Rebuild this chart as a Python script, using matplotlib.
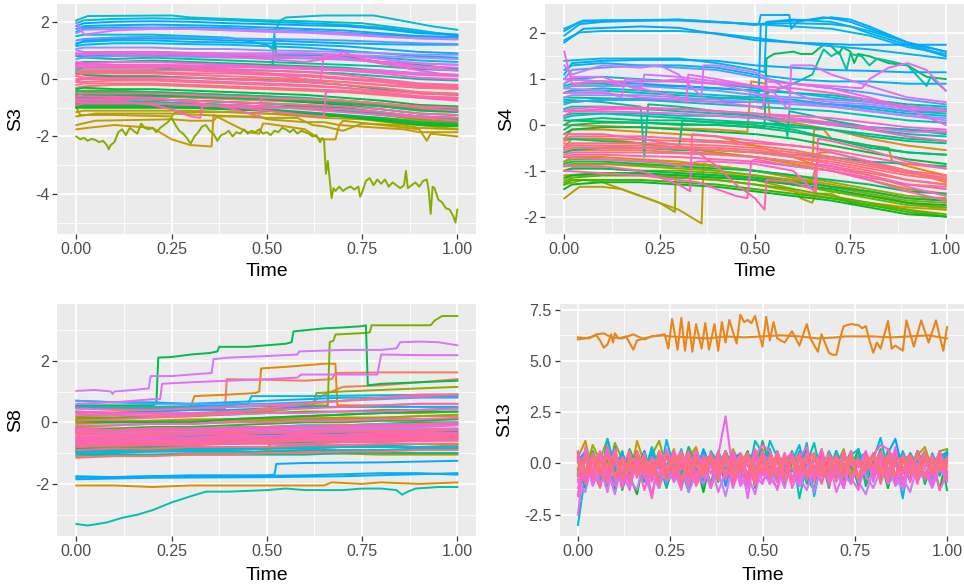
import numpy as np
import matplotlib
matplotlib.use("Agg")
import matplotlib.pyplot as plt

plt.rcParams['font.family'] = ['Liberation Sans', 'DejaVu Sans']
plt.rcParams['axes.unicode_minus'] = False

N_GROUPS = 100

# ---------------- S3 ----------------
S3_GRID = [0, 0.02, 0.1, 0.2, 0.3, 0.4, 0.5, 0.6, 0.7, 0.8, 0.9, 1.0]
S3_STEADY = [
    (76, [2.0, 1.55, 1.7, 1.75, 1.75, 1.72, 1.7, 1.65, 1.6, 1.5, 1.42, 1.4]),
    (62, [1.75, 1.85, 1.88, 1.9, 1.88, 1.85, 1.8, 1.75, 1.7, 1.6, 1.5, 1.48]),
    (60, [1.65, 1.78, 1.8, 1.8, 1.8, 1.78, 1.72, 1.68, 1.62, 1.55, 1.48, 1.45]),
    (74, [1.6, 1.72, 1.75, 1.78, 1.75, 1.7, 1.65, 1.62, 1.55, 1.48, 1.42, 1.38]),
    (64, [1.85, 1.95, 2.0, 2.02, 2.0, 1.95, 1.92, 1.88, 1.85, 1.75, 1.6, 1.55]),
    (56, [1.95, 2.05, 2.1, 2.12, 2.1, 2.05, 2.0, 1.95, 1.9, 1.8, 1.65, 1.55]),
    (62, [1.2, 1.35, 1.4, 1.42, 1.4, 1.35, 1.35, 1.3, 1.25, 1.22, 1.2, 1.2]),
    (60, [1.25, 1.3, 1.35, 1.35, 1.3, 1.28, 1.25, 1.2, 1.15, 1.05, 0.95, 0.9]),
    (66, [1.35, 1.4, 1.45, 1.48, 1.45, 1.42, 1.4, 1.38, 1.35, 1.3, 1.25, 1.22]),
    (58, [1.15, 1.2, 1.25, 1.25, 1.22, 1.2, 1.15, 1.1, 1.0, 0.9, 0.8, 0.75]),
    (72, [1.0, 0.95, 0.95, 0.95, 0.92, 0.9, 0.9, 0.9, 0.85, 0.8, 0.75, 0.7]),
    (80, [0.9, 0.85, 0.9, 0.92, 0.9, 0.88, 0.88, 0.9, 0.85, 0.7, 0.55, 0.5]),
    (44, [0.8, 0.75, 0.7, 0.75, 0.7, 0.65, 0.6, 0.55, 0.5, 0.45, 0.35, 0.3]),
    (54, [0.85, 0.8, 0.85, 0.85, 0.8, 0.8, 0.8, 0.85, 0.8, 0.75, 0.65, 0.6]),
    (84, [0.85, 0.9, 0.95, 0.95, 0.9, 0.85, 0.8, 0.78, 0.72, 0.6, 0.45, 0.4]),
    (68, [0.7, 0.75, 0.8, 0.8, 0.78, 0.75, 0.75, 0.72, 0.68, 0.6, 0.55, 0.5]),
    (88, [0.6, 0.55, 0.5, 0.5, 0.48, 0.45, 0.4, 0.35, 0.3, 0.2, 0.05, 0.0]),
    (40, [0.55, 0.6, 0.6, 0.65, 0.6, 0.55, 0.5, 0.45, 0.4, 0.3, 0.2, 0.15]),
    (92, [0.45, 0.4, 0.4, 0.42, 0.4, 0.35, 0.3, 0.25, 0.15, 0.0, -0.15, -0.2]),
    (86, [0.5, 0.55, 0.6, 0.6, 0.55, 0.5, 0.45, 0.4, 0.35, 0.25, 0.15, 0.1]),
    (97, [0.3, 0.3, 0.3, 0.32, 0.3, 0.25, 0.2, 0.15, 0.05, -0.05, -0.2, -0.25]),
    (46, [0.35, 0.4, 0.4, 0.4, 0.35, 0.3, 0.3, 0.25, 0.2, 0.1, 0.0, -0.05]),
    (78, [0.4, 0.45, 0.45, 0.45, 0.45, 0.42, 0.4, 0.4, 0.35, 0.3, 0.2, 0.15]),
    (99, [0.15, 0.2, 0.2, 0.2, 0.15, 0.1, 0.05, 0.0, -0.1, -0.2, -0.3, -0.35]),
    (94, [0.1, 0.05, 0.05, 0.05, 0.05, 0.0, -0.05, -0.1, -0.2, -0.3, -0.45, -0.5]),
    (36, [0.2, 0.15, 0.1, 0.1, 0.05, 0.0, -0.05, -0.1, -0.2, -0.35, -0.5, -0.55]),
    (2, [0.0, 0.05, 0.1, 0.1, 0.05, 0.0, 0.0, -0.05, -0.1, -0.2, -0.3, -0.3]),
    (90, [0.25, 0.25, 0.25, 0.25, 0.2, 0.2, 0.15, 0.1, 0.0, -0.1, -0.25, -0.3]),
    (98, [-0.1, -0.1, -0.05, -0.05, -0.1, -0.15, -0.2, -0.25, -0.3, -0.4, -0.5, -0.55]),
    (95, [-0.2, -0.15, -0.15, -0.15, -0.2, -0.25, -0.3, -0.35, -0.4, -0.5, -0.6, -0.65]),
    (1, [-0.3, -0.25, -0.2, -0.2, -0.25, -0.3, -0.35, -0.4, -0.45, -0.55, -0.65, -0.7]),
    (34, [-0.35, -0.3, -0.35, -0.35, -0.4, -0.45, -0.5, -0.55, -0.65, -0.75, -0.9, -0.95]),
    (42, [-0.4, -0.45, -0.45, -0.45, -0.5, -0.55, -0.6, -0.65, -0.75, -0.85, -1.0, -1.05]),
    (89, [-0.05, 0.0, 0.0, 0.0, -0.05, -0.1, -0.15, -0.2, -0.3, -0.45, -0.6, -0.65]),
    (27, [-0.45, -0.4, -0.4, -0.45, -0.5, -0.55, -0.6, -0.7, -0.8, -0.9, -1.05, -1.1]),
    (32, [-0.55, -0.5, -0.5, -0.55, -0.6, -0.65, -0.7, -0.8, -0.9, -1.05, -1.2, -1.25]),
    (38, [-0.6, -0.65, -0.65, -0.7, -0.75, -0.8, -0.85, -0.9, -1.0, -1.15, -1.3, -1.35]),
    (30, [-0.7, -0.7, -0.7, -0.72, -0.75, -0.8, -0.85, -0.95, -1.05, -1.2, -1.35, -1.4]),
    (33, [-1.0, -1.0, -1.0, -1.0, -1.0, -1.05, -1.1, -1.2, -1.3, -1.4, -1.55, -1.6]),
    (35, [-0.95, -0.9, -0.9, -0.9, -0.95, -1.0, -1.05, -1.15, -1.25, -1.35, -1.5, -1.55]),
    (91, [-0.75, -0.7, -0.7, -0.7, -0.75, -0.8, -0.85, -0.9, -0.95, -1.05, -1.2, -1.25]),
    (93, [-0.9, -0.85, -0.85, -0.85, -0.9, -0.95, -1.0, -1.0, -1.05, -1.15, -1.3, -1.35]),
    (96, [-0.5, -0.5, -0.5, -0.5, -0.55, -0.6, -0.65, -0.7, -0.75, -0.85, -0.95, -1.0]),
    (3, [-0.65, -0.6, -0.6, -0.6, -0.65, -0.7, -0.75, -0.8, -0.85, -0.95, -1.05, -1.1]),
    (48, [-0.8, -0.75, -0.75, -0.8, -0.85, -0.9, -0.95, -1.0, -1.1, -1.2, -1.3, -1.35]),
    (28, [-0.85, -0.8, -0.8, -0.8, -0.85, -0.9, -0.95, -1.0, -1.1, -1.25, -1.4, -1.45]),
    (14, [-1.15, -1.1, -1.1, -1.1, -1.1, -1.15, -1.2, -1.25, -1.3, -1.35, -1.45, -1.5]),
    (31, [-0.9, -0.95, -0.95, -0.95, -1.0, -1.05, -1.1, -1.2, -1.3, -1.45, -1.6, -1.65]),
    (37, [-0.5, -0.55, -0.55, -0.6, -0.6, -0.65, -0.7, -0.75, -0.85, -0.95, -1.1, -1.15]),
    (70, [1.05, 1.1, 1.1, 1.1, 1.05, 1.05, 1.0, 0.98, 0.95, 0.9, 0.85, 0.85]),
]
S3_STEP = [
    (50, [(0, 2.05), (0.03, 2.2), (0.25, 2.22), (0.3, 2.15), (0.5, 2.05), (0.6, 2.02),
          (0.75, 1.95), (0.9, 1.7), (1, 1.5)]),
    (52, [(0, 1.5), (0.02, 1.55), (0.2, 1.55), (0.4, 1.45), (0.5, 1.2), (0.515, 1.05),
          (0.52, 1.6), (0.535, 2.05), (0.55, 2.15), (0.65, 2.22), (0.78, 2.22), (0.85, 2.05),
          (0.93, 1.85), (1, 1.72)]),
    (15, [(0, -1.0), (0.01, -1.25), (0.1, -1.25), (0.25, -1.3), (0.26, -1.15), (0.4, -1.15),
          (0.5, -1.2), (0.6, -1.3), (0.65, -1.35), (0.75, -1.4), (0.85, -1.55), (0.9, -1.6),
          (1, -1.75)]),
    (16, [(0, -1.6), (0.05, -1.45), (0.25, -1.4), (0.3, -1.45), (0.36, -1.45), (0.37, -1.3),
          (0.48, -1.3), (0.5, -1.4), (0.6, -1.5), (0.65, -1.5), (0.69, -1.6), (0.7, -1.45),
          (0.8, -1.6), (0.9, -1.75), (0.92, -2.15), (0.93, -1.9), (1, -2.0)]),
    (13, [(0, -1.75), (0.03, -1.7), (0.1, -1.6), (0.2, -1.7), (0.25, -2.1), (0.3, -2.3),
          (0.355, -2.35), (0.36, -1.25), (0.45, -1.85), (0.48, -1.9), (0.49, -1.55),
          (0.5, -1.55), (0.6, -1.75), (0.64, -2.1), (0.68, -2.1), (0.69, -1.6), (0.8, -1.7),
          (0.86, -1.75), (0.9, -1.85), (1, -1.85)]),
    (18, [(0, -1.3), (0.05, -1.2), (0.25, -1.2), (0.5, -1.35), (0.58, -1.35), (0.62, -1.6),
          (0.65, -1.65), (0.7, -1.8), (0.75, -1.55), (0.85, -1.6), (0.9, -1.7), (1, -1.75)]),
    (24, [(0, -2.0), (0.01, -2.1), (0.02, -2.05), (0.03, -2.15), (0.04, -2.08), (0.05, -2.12),
          (0.06, -2.2), (0.07, -2.15), (0.08, -2.3), (0.085, -2.45), (0.09, -2.3), (0.1, -2.2),
          (0.11, -1.85), (0.12, -1.75), (0.13, -1.95), (0.14, -1.7), (0.15, -1.8), (0.16, -1.9),
          (0.17, -1.55), (0.18, -1.7), (0.19, -1.75), (0.2, -1.7), (0.21, -1.85), (0.22, -1.7),
          (0.23, -1.6), (0.24, -1.5), (0.25, -1.35), (0.26, -1.6), (0.27, -1.8), (0.28, -1.9),
          (0.29, -2.05), (0.3, -2.25), (0.31, -2.0), (0.32, -1.85), (0.33, -1.65), (0.34, -1.6),
          (0.35, -1.8), (0.36, -1.9), (0.37, -2.15), (0.38, -1.95), (0.39, -1.9), (0.4, -1.8),
          (0.41, -2.0), (0.42, -1.85), (0.43, -1.9), (0.44, -1.75), (0.45, -1.9), (0.46, -1.8),
          (0.47, -1.85), (0.48, -1.75), (0.49, -1.9), (0.5, -1.85), (0.51, -1.95), (0.52, -1.8),
          (0.53, -1.85), (0.54, -1.7), (0.55, -1.75), (0.56, -1.85), (0.57, -1.75), (0.58, -1.9),
          (0.59, -1.8), (0.6, -1.85), (0.61, -1.9), (0.62, -2.0), (0.63, -1.95), (0.64, -2.2),
          (0.645, -2.05), (0.65, -2.1), (0.655, -3.3), (0.66, -2.85), (0.665, -3.5),
          (0.67, -4.15), (0.675, -3.8), (0.68, -3.9), (0.69, -3.75), (0.7, -3.9), (0.71, -3.8),
          (0.72, -3.75), (0.73, -3.85), (0.74, -3.75), (0.745, -4.1), (0.75, -3.95),
          (0.76, -3.55), (0.77, -3.45), (0.78, -3.7), (0.79, -3.5), (0.8, -3.65), (0.81, -3.5),
          (0.82, -3.75), (0.83, -3.6), (0.84, -3.7), (0.85, -3.8), (0.86, -3.7), (0.865, -3.2),
          (0.87, -3.8), (0.88, -3.7), (0.89, -3.6), (0.9, -3.75), (0.91, -3.55), (0.92, -3.5),
          (0.925, -3.9), (0.93, -4.7), (0.935, -3.75), (0.94, -3.8), (0.95, -4.2), (0.96, -4.3),
          (0.97, -4.5), (0.98, -4.55), (0.99, -4.8), (0.995, -5.0), (1.0, -4.55)]),
    (90, [(0, -0.7), (0.1, -0.75), (0.2, -0.9), (0.25, -1.05), (0.3, -1.3), (0.325, -1.35),
          (0.33, -0.95), (0.4, -0.9), (0.5, -0.95), (0.6, -1.05), (0.7, -1.15), (0.8, -1.25),
          (0.9, -1.35), (1, -1.45)]),
    (91, [(0, -0.6), (0.2, -0.65), (0.3, -0.8), (0.4, -1.0), (0.48, -1.3), (0.485, -0.65),
          (0.6, -0.7), (0.7, -0.75), (0.8, -0.85), (0.9, -1.0), (1, -1.1)]),
    (89, [(0, -0.8), (0.2, -0.85), (0.4, -0.95), (0.5, -1.1), (0.6, -1.25), (0.65, -1.3),
          (0.655, -0.45), (0.7, -0.4), (0.8, -0.5), (0.9, -0.65), (1, -0.75)]),
    (80, [(0, 0.5), (0.2, 0.45), (0.4, 0.3), (0.5, 0.2), (0.6, 0.0), (0.64, -0.1),
          (0.65, 0.85), (0.7, 0.75), (0.8, 0.55), (0.9, 0.4), (1, 0.3)]),
    (87, [(0, 0.9), (0.3, 0.85), (0.5, 0.7), (0.6, 0.6), (0.68, 0.75), (0.7, 0.95),
          (0.75, 0.7), (0.8, 0.55), (0.9, 0.3), (1, 0.1)]),
    (34, [(0, 0.3), (0.2, 0.3), (0.4, 0.45), (0.5, 0.5), (0.515, 0.5), (0.52, 1.5),
          (0.525, 0.85), (0.6, 0.85), (0.7, 0.8), (0.8, 0.6), (0.9, 0.5), (1, 0.35)]),
]

# ---------------- S4 ----------------
S4_GRID = [0, 0.02, 0.1, 0.2, 0.3, 0.4, 0.5, 0.6, 0.7, 0.8, 0.9, 1.0]
S4_STEADY = [
    (61, [1.1, 1.35, 1.4, 1.42, 1.42, 1.4, 1.3, 1.25, 1.2, 1.18, 1.15, 1.15]),
    (59, [1.2, 1.3, 1.35, 1.3, 1.3, 1.25, 1.1, 1.0, 0.95, 0.95, 0.9, 0.9]),
    (66, [1.0, 1.2, 1.25, 1.3, 1.25, 1.2, 1.05, 0.9, 0.8, 0.7, 0.55, 0.45]),
    (54, [0.9, 1.0, 1.05, 1.0, 0.95, 0.9, 0.8, 0.7, 0.6, 0.5, 0.4, 0.35]),
    (68, [0.8, 0.85, 0.85, 0.85, 0.8, 0.75, 0.65, 0.6, 0.55, 0.5, 0.4, 0.35]),
    (52, [0.7, 0.75, 0.8, 0.75, 0.7, 0.65, 0.6, 0.55, 0.45, 0.35, 0.25, 0.2]),
    (70, [0.6, 0.65, 0.65, 0.65, 0.6, 0.55, 0.5, 0.45, 0.4, 0.3, 0.2, 0.15]),
    (48, [0.5, 0.5, 0.55, 0.55, 0.5, 0.45, 0.4, 0.35, 0.3, 0.2, 0.1, 0.05]),
    (65, [0.45, 0.5, 0.55, 0.55, 0.55, 0.5, 0.5, 0.5, 0.45, 0.4, 0.3, 0.3]),
    (90, [0.2, 0.3, 0.35, 0.35, 0.35, 0.3, 0.25, 0.15, 0.05, -0.1, -0.25, -0.35]),
    (88, [0.3, 0.35, 0.4, 0.38, 0.35, 0.3, 0.25, 0.2, 0.15, 0.05, -0.05, -0.1]),
    (86, [1.6, 0.9, 0.95, 0.95, 0.95, 0.9, 0.85, 0.8, 0.7, 0.55, 0.4, 0.3]),
    (40, [0.0, 0.1, 0.15, 0.1, 0.1, 0.05, 0.05, 0.0, -0.1, -0.25, -0.35, -0.4]),
    (42, [0.2, 0.25, 0.25, 0.2, 0.15, 0.1, 0.05, -0.05, -0.1, -0.2, -0.3, -0.35]),
    (38, [-0.1, 0.0, 0.05, 0.05, 0.0, 0.0, -0.05, -0.15, -0.3, -0.45, -0.6, -0.65]),
    (46, [0.35, 0.4, 0.4, 0.35, 0.3, 0.25, 0.2, 0.1, 0.0, -0.1, -0.2, -0.25]),
    (34, [-0.2, -0.1, -0.05, -0.05, -0.1, -0.15, -0.2, -0.3, -0.45, -0.6, -0.75, -0.85]),
    (50, [0.15, 0.2, 0.25, 0.25, 0.2, 0.2, 0.15, 0.1, 0.05, -0.05, -0.1, -0.15]),
    (45, [0.85, 0.9, 0.9, 0.85, 0.85, 0.8, 0.75, 0.7, 0.65, 0.55, 0.45, 0.4]),
    (47, [0.7, 0.75, 0.75, 0.7, 0.65, 0.6, 0.55, 0.5, 0.45, 0.4, 0.3, 0.25]),
    (98, [-0.45, -0.4, -0.4, -0.4, -0.42, -0.45, -0.5, -0.6, -0.7, -0.85, -1.0, -1.1]),
    (99, [-0.55, -0.5, -0.5, -0.5, -0.52, -0.55, -0.6, -0.7, -0.8, -0.95, -1.1, -1.2]),
    (0, [-0.35, -0.3, -0.3, -0.32, -0.35, -0.38, -0.45, -0.55, -0.7, -0.85, -1.05, -1.15]),
    (2, [-0.6, -0.55, -0.55, -0.55, -0.6, -0.62, -0.7, -0.8, -0.9, -1.05, -1.2, -1.3]),
    (97, [-0.5, -0.45, -0.45, -0.45, -0.48, -0.5, -0.55, -0.65, -0.75, -0.9, -1.05, -1.15]),
    (96, [-0.65, -0.6, -0.6, -0.6, -0.62, -0.65, -0.7, -0.8, -0.95, -1.1, -1.3, -1.35]),
    (94, [-0.3, -0.25, -0.25, -0.25, -0.3, -0.35, -0.4, -0.45, -0.55, -0.7, -0.85, -0.95]),
    (92, [-0.7, -0.65, -0.65, -0.68, -0.7, -0.75, -0.8, -0.9, -1.0, -1.15, -1.3, -1.4]),
    (95, [-0.4, -0.45, -0.45, -0.5, -0.5, -0.55, -0.6, -0.7, -0.85, -1.0, -1.2, -1.3]),
    (18, [-0.5, -0.3, -0.3, -0.4, -0.5, -0.6, -0.7, -0.85, -1.0, -1.2, -1.4, -1.5]),
    (22, [-0.8, -0.75, -0.75, -0.8, -0.85, -0.9, -1.0, -1.1, -1.25, -1.4, -1.55, -1.6]),
    (24, [-0.9, -0.85, -0.85, -0.9, -0.95, -1.0, -1.1, -1.2, -1.35, -1.5, -1.65, -1.7]),
    (26, [-1.0, -0.95, -0.95, -1.0, -1.0, -1.05, -1.15, -1.3, -1.45, -1.6, -1.75, -1.8]),
    (14, [-1.2, -1.1, -1.1, -1.1, -1.15, -1.2, -1.3, -1.45, -1.6, -1.7, -1.8, -1.85]),
    (12, [-0.8, -0.7, -0.7, -0.75, -0.8, -0.9, -1.0, -1.15, -1.3, -1.45, -1.6, -1.65]),
    (30, [-1.3, -1.2, -1.2, -1.2, -1.25, -1.3, -1.4, -1.5, -1.6, -1.75, -1.9, -2.0]),
    (32, [-1.4, -1.3, -1.25, -1.25, -1.3, -1.35, -1.45, -1.55, -1.65, -1.8, -1.95, -2.0]),
    (33, [-1.15, -1.1, -1.05, -1.05, -1.1, -1.15, -1.2, -1.3, -1.4, -1.55, -1.7, -1.75]),
    (35, [-1.0, -0.95, -0.95, -1.0, -1.05, -1.1, -1.15, -1.25, -1.35, -1.45, -1.6, -1.65]),
    (28, [-1.25, -1.15, -1.1, -1.1, -1.15, -1.2, -1.3, -1.4, -1.55, -1.7, -1.85, -1.95]),
    (37, [-0.85, -0.8, -0.8, -0.85, -0.9, -0.95, -1.0, -1.1, -1.2, -1.3, -1.45, -1.5]),
    (41, [-0.6, -0.55, -0.5, -0.5, -0.55, -0.55, -0.6, -0.65, -0.7, -0.8, -0.85, -0.9]),
]
S4_STEP = [
    (62, [(0, 2.05), (0.04, 2.25), (0.1, 2.28), (0.3, 2.28), (0.45, 2.22), (0.5, 2.18),
          (0.51, 2.2), (0.515, 2.4), (0.59, 2.4), (0.595, 2.1), (0.61, 2.25), (0.68, 2.35),
          (0.72, 2.3), (0.75, 2.25), (0.8, 2.1), (0.85, 1.95), (0.9, 1.8), (0.95, 1.7), (1, 1.6)]),
    (60, [(0, 1.95), (0.04, 2.2), (0.1, 2.25), (0.3, 2.3), (0.4, 2.25), (0.5, 2.2), (0.6, 2.22),
          (0.7, 2.2), (0.75, 2.15), (0.8, 2.0), (0.9, 1.75), (1, 1.5)]),
    (58, [(0, 1.85), (0.04, 2.02), (0.1, 2.05), (0.3, 2.05), (0.4, 2.0), (0.45, 1.95),
          (0.5, 1.9), (0.6, 1.8), (0.7, 1.72), (0.8, 1.65), (0.9, 1.55), (1, 1.45)]),
    (64, [(0, 1.8), (0.05, 2.1), (0.2, 2.15), (0.3, 2.12), (0.35, 2.05), (0.45, 1.92),
          (0.5, 1.85), (0.6, 1.8), (0.75, 1.75), (0.9, 1.75), (1, 1.75)]),
    (56, [(0, 2.1), (0.05, 2.28), (0.3, 2.3), (0.4, 2.25), (0.5, 2.2), (0.6, 2.15),
          (0.7, 2.1), (0.8, 1.95), (0.9, 1.7), (1, 1.55)]),
    (63, [(0, 1.0), (0.1, 0.95), (0.2, 0.9), (0.3, 0.85), (0.4, 0.8), (0.5, 0.75), (0.51, 0.7),
          (0.515, 2.2), (0.55, 2.25), (0.65, 2.3), (0.7, 2.35), (0.75, 2.3), (0.8, 2.15),
          (0.9, 1.8), (1, 1.6)]),
    (57, [(0, 1.4), (0.1, 1.45), (0.3, 1.45), (0.4, 1.35), (0.5, 1.2), (0.525, 1.15),
          (0.53, 2.25), (0.6, 2.3), (0.7, 2.25), (0.8, 2.05), (0.9, 1.8), (1, 1.5)]),
    (36, [(0, 0.1), (0.2, 0.05), (0.4, 0.0), (0.5, -0.05), (0.525, -0.05), (0.53, 1.45),
          (0.55, 1.55), (0.6, 1.6), (0.62, 1.55), (0.65, 1.55), (0.68, 1.75), (0.7, 1.72),
          (0.72, 1.55), (0.73, 1.7), (0.75, 1.6), (0.76, 1.35), (0.77, 1.55), (0.8, 1.5),
          (0.85, 1.35), (0.9, 1.3), (0.95, 1.05), (1, 1.0)]),
    (44, [(0, 0.6), (0.3, 0.55), (0.5, 0.6), (0.6, 0.9), (0.65, 1.1), (0.68, 1.65), (0.7, 1.5),
          (0.72, 1.6), (0.74, 1.2), (0.75, 1.55), (0.78, 1.5), (0.8, 1.3), (0.82, 1.45),
          (0.85, 1.4), (0.9, 1.3), (0.95, 0.85), (0.96, 1.05), (1, 0.75)]),
    (76, [(0, 1.3), (0.02, 1.1), (0.1, 1.3), (0.2, 1.25), (0.25, 1.3), (0.3, 1.1), (0.35, 0.7),
          (0.36, 0.65), (0.365, 1.3), (0.4, 1.3), (0.5, 1.15), (0.55, 0.95), (0.6, 0.7),
          (0.65, 0.55), (0.7, 0.5), (0.8, 0.45), (0.9, 0.35), (1, 0.3)]),
    (78, [(0, 0.9), (0.02, 1.05), (0.1, 1.05), (0.15, 0.9), (0.2, 0.75), (0.21, 1.1), (0.3, 1.05),
          (0.4, 0.95), (0.5, 0.85), (0.55, 0.7), (0.58, 0.4), (0.59, 0.35), (0.595, 1.3),
          (0.65, 1.3), (0.7, 1.1), (0.8, 0.85), (0.88, 0.65), (0.9, 0.6), (1, 0.5)]),
    (80, [(0, 1.0), (0.1, 0.95), (0.2, 0.8), (0.3, 0.6), (0.32, 0.5), (0.325, 1.1), (0.4, 1.0),
          (0.5, 0.85), (0.55, 0.75), (0.6, 0.9), (0.7, 0.85), (0.78, 0.8), (0.8, 1.0),
          (0.85, 1.25), (0.9, 1.35), (0.95, 1.2), (1, 0.75)]),
    (74, [(0, 0.8), (0.1, 0.75), (0.15, 0.6), (0.16, 1.0), (0.25, 0.95), (0.3, 1.0), (0.4, 0.9),
          (0.5, 0.7), (0.6, 0.5), (0.7, 0.4), (0.8, 0.3), (0.9, 0.2), (1, 0.1)]),
    (82, [(0, 0.7), (0.1, 0.7), (0.2, 0.6), (0.3, 0.55), (0.4, 0.5), (0.5, 0.4), (0.52, 0.35),
          (0.53, 0.95), (0.6, 0.9), (0.7, 0.8), (0.8, 0.6), (0.9, 0.35), (1, 0.0)]),
    (84, [(0, 0.3), (0.1, 0.3), (0.3, 0.25), (0.5, 0.15), (0.6, 0.1), (0.7, 0.0), (0.8, -0.05),
          (0.9, -0.15), (1, -0.15)]),
    (43, [(0, 0.55), (0.1, 0.5), (0.2, 0.4), (0.21, -0.7), (0.22, 0.45), (0.3, 0.4), (0.4, 0.3),
          (0.5, 0.2), (0.58, 0.0), (0.585, -0.25), (0.59, 0.3), (0.65, 0.2), (0.7, 0.1),
          (0.8, -0.05), (0.9, -0.1), (1, -0.2)]),
    (39, [(0, -0.3), (0.1, -0.35), (0.2, -0.4), (0.3, -0.55), (0.31, 0.1), (0.4, 0.05),
          (0.5, 0.0), (0.6, -0.1), (0.7, -0.3), (0.8, -0.5), (0.9, -0.6), (1, -0.65)]),
    (91, [(0, -0.9), (0.1, -0.9), (0.2, -1.0), (0.3, -1.3), (0.33, -1.45), (0.335, -0.2),
          (0.4, -0.25), (0.5, -0.35), (0.6, -0.45), (0.65, -0.5), (0.7, -0.6), (0.8, -0.8),
          (0.9, -1.0), (1, -1.2)]),
    (89, [(0, -1.0), (0.1, -1.05), (0.2, -1.1), (0.3, -1.2), (0.35, -1.25), (0.4, -1.4),
          (0.45, -1.55), (0.48, -1.6), (0.49, -0.8), (0.5, -0.75), (0.6, -0.9), (0.7, -1.0),
          (0.8, -1.2), (0.9, -1.45), (1, -1.65)]),
    (93, [(0, -0.2), (0.1, -0.2), (0.2, -0.3), (0.3, -0.45), (0.35, -0.6), (0.4, -0.9),
          (0.45, -1.3), (0.5, -1.6), (0.52, -1.8), (0.525, -1.85), (0.53, -1.2), (0.6, -1.25),
          (0.65, -1.4), (0.66, -1.45), (0.665, -0.3), (0.7, -0.35), (0.8, -0.55), (0.9, -0.8),
          (1, -0.95)]),
    (87, [(0, -0.7), (0.1, -0.75), (0.25, -0.8), (0.3, -0.9), (0.35, -0.8), (0.4, -0.8),
          (0.5, -0.85), (0.6, -1.0), (0.65, -1.4), (0.655, -1.45), (0.66, -0.85), (0.7, -0.9),
          (0.8, -1.1), (0.9, -1.35), (1, -1.55)]),
    (8, [(0, -0.3), (0.02, -0.1), (0.1, -0.1), (0.2, -0.15), (0.3, -0.2), (0.4, -0.25),
         (0.5, -0.45), (0.6, -0.7), (0.65, -0.85), (0.655, -0.1), (0.68, -0.1), (0.7, -0.3),
         (0.8, -0.45), (0.85, -0.5), (0.86, -0.8), (0.9, -0.9), (1, -1.1)]),
    (6, [(0, 0.0), (0.2, -0.05), (0.4, -0.1), (0.48, -0.15), (0.49, 0.95), (0.53, 0.9),
         (0.54, 0.1), (0.6, 0.05), (0.7, -0.1), (0.8, -0.3), (0.9, -0.45), (1, -0.55)]),
    (10, [(0, -0.9), (0.1, -0.85), (0.3, -0.9), (0.4, -1.0), (0.5, -1.1), (0.6, -1.25),
          (0.65, -1.2), (0.67, -0.6), (0.7, -0.6), (0.8, -0.8), (0.9, -1.0), (1, -1.25)]),
    (16, [(0, -1.6), (0.04, -1.35), (0.1, -1.35), (0.15, -1.4), (0.2, -1.55), (0.25, -1.7),
          (0.3, -1.85), (0.33, -2.0), (0.35, -2.1), (0.36, -2.15), (0.365, -0.85), (0.4, -0.9),
          (0.5, -1.0), (0.6, -1.15), (0.7, -1.35), (0.8, -1.5), (0.9, -1.7), (1, -1.85)]),
    (20, [(0, -1.3), (0.05, -1.2), (0.1, -1.25), (0.15, -1.4), (0.2, -1.55), (0.25, -1.7),
          (0.29, -1.9), (0.292, -1.05), (0.4, -1.1), (0.5, -1.2), (0.6, -1.3), (0.7, -1.45),
          (0.8, -1.55), (0.9, -1.7), (1, -1.8)]),
    (19, [(0, -1.1), (0.1, -1.05), (0.3, -1.1), (0.5, -1.2), (0.6, -1.4), (0.62, -1.6),
          (0.65, -1.7), (0.66, -1.5), (0.7, -1.5), (0.75, -1.7), (0.8, -1.75), (0.9, -1.85),
          (1, -2.0)]),
]

# ---------------- S8 ----------------
S8_GRID = [0, 0.1, 0.2, 0.3, 0.4, 0.5, 0.6, 0.7, 0.8, 0.9, 1.0]
S8_STEADY = [
    (58, [0.7, 0.65, 0.65, 0.6, 0.65, 0.7, 0.75, 0.8, 0.8, 0.85, 0.85]),
    (66, [0.7, 0.65, 0.6, 0.6, 0.6, 0.6, 0.65, 0.7, 0.75, 0.8, 0.8]),
    (60, [0.35, 0.3, 0.35, 0.4, 0.4, 0.45, 0.5, 0.5, 0.5, 0.5, 0.5]),
    (84, [0.45, 0.4, 0.4, 0.45, 0.5, 0.55, 0.6, 0.7, 0.8, 0.85, 0.9]),
    (90, [0.35, 0.3, 0.3, 0.3, 0.35, 0.4, 0.45, 0.5, 0.55, 0.6, 0.6]),
    (97, [0.05, 0.1, 0.15, 0.2, 0.3, 0.45, 0.6, 0.7, 0.8, 0.9, 0.9]),
    (34, [0.05, 0.0, 0.0, 0.0, 0.1, 0.15, 0.2, 0.25, 0.3, 0.35, 0.35]),
    (26, [0.0, 0.0, 0.05, 0.05, 0.1, 0.15, 0.2, 0.25, 0.3, 0.3, 0.35]),
    (2, [0.05, 0.05, 0.05, 0.1, 0.1, 0.1, 0.15, 0.15, 0.15, 0.2, 0.2]),
    (8, [-0.05, 0.0, 0.0, 0.05, 0.05, 0.1, 0.1, 0.1, 0.15, 0.1, 0.1]),
    (22, [-0.15, -0.1, -0.05, -0.05, 0.0, 0.05, 0.1, 0.15, 0.15, 0.2, 0.25]),
    (40, [-0.3, -0.3, -0.25, -0.2, -0.2, -0.15, -0.1, -0.1, -0.05, 0.0, 0.0]),
    (52, [-0.95, -0.95, -0.95, -0.9, -0.9, -0.85, -0.85, -0.8, -0.8, -0.8, -0.8]),
    (56, [-1.0, -1.0, -0.95, -0.95, -0.95, -0.95, -0.9, -0.9, -0.9, -0.85, -0.85]),
    (48, [-0.9, -0.9, -0.85, -0.85, -0.85, -0.8, -0.8, -0.75, -0.75, -0.7, -0.7]),
    (36, [-0.85, -0.85, -0.8, -0.8, -0.8, -0.8, -0.75, -0.75, -0.75, -0.7, -0.7]),
    (20, [-0.8, -0.8, -0.8, -0.8, -0.8, -0.9, -1.0, -1.0, -1.0, -1.0, -1.0]),
    (44, [-1.05, -1.05, -1.05, -1.05, -1.05, -1.05, -1.05, -1.0, -1.0, -1.0, -1.0]),
    (38, [-0.6, -0.6, -0.55, -0.55, -0.55, -0.5, -0.5, -0.5, -0.5, -0.45, -0.45]),
    (30, [-0.2, -0.2, -0.15, -0.15, -0.1, -0.05, 0.0, 0.0, 0.05, 0.05, 0.1]),
    (99, [-1.15, -1.1, -1.1, -1.05, -1.05, -1.0, -1.0, -0.95, -0.95, -0.9, -0.9]),
    (0, [-1.1, -1.05, -1.05, -1.0, -1.0, -0.95, -0.95, -0.95, -0.9, -0.9, -0.85]),
    (64, [-0.5, -0.5, -0.45, -0.45, -0.4, -0.4, -0.35, -0.35, -0.3, -0.3, -0.3]),
    (70, [-0.35, -0.35, -0.35, -0.3, -0.3, -0.3, -0.25, -0.25, -0.2, -0.2, -0.2]),
    (76, [-0.7, -0.7, -0.65, -0.65, -0.6, -0.6, -0.6, -0.55, -0.55, -0.5, -0.5]),
    (80, [-0.55, -0.55, -0.5, -0.5, -0.5, -0.45, -0.45, -0.45, -0.4, -0.4, -0.35]),
    (86, [-0.3, -0.3, -0.3, -0.25, -0.25, -0.25, -0.2, -0.2, -0.15, -0.15, -0.1]),
    (87, [-0.45, -0.45, -0.4, -0.4, -0.4, -0.35, -0.35, -0.3, -0.3, -0.3, -0.25]),
    (88, [-0.6, -0.55, -0.55, -0.5, -0.5, -0.5, -0.45, -0.45, -0.4, -0.4, -0.4]),
    (89, [-0.7, -0.65, -0.65, -0.65, -0.6, -0.6, -0.55, -0.55, -0.55, -0.5, -0.5]),
    (91, [-0.2, -0.25, -0.2, -0.2, -0.2, -0.15, -0.15, -0.1, -0.1, -0.05, -0.05]),
    (92, [-0.8, -0.75, -0.75, -0.75, -0.7, -0.7, -0.7, -0.65, -0.65, -0.6, -0.6]),
    (93, [-0.5, -0.5, -0.45, -0.5, -0.45, -0.45, -0.4, -0.4, -0.35, -0.35, -0.35]),
    (94, [-0.35, -0.4, -0.35, -0.35, -0.3, -0.35, -0.3, -0.3, -0.25, -0.25, -0.2]),
    (95, [-0.65, -0.6, -0.6, -0.6, -0.55, -0.55, -0.55, -0.5, -0.5, -0.45, -0.45]),
    (96, [-0.9, -0.85, -0.85, -0.8, -0.8, -0.8, -0.75, -0.75, -0.7, -0.7, -0.7]),
    (98, [-0.4, -0.4, -0.4, -0.35, -0.35, -0.35, -0.3, -0.3, -0.3, -0.25, -0.25]),
    (85, [-0.1, -0.1, -0.05, -0.05, 0.0, 0.0, 0.05, 0.05, 0.1, 0.1, 0.15]),
    (83, [0.25, 0.25, 0.2, 0.25, 0.25, 0.3, 0.3, 0.35, 0.35, 0.4, 0.45]),
    (28, [0.15, 0.15, 0.2, 0.2, 0.25, 0.3, 0.35, 0.35, 0.4, 0.4, 0.45]),
    (42, [-0.75, -0.75, -0.7, -0.7, -0.7, -0.65, -0.65, -0.6, -0.6, -0.6, -0.55]),
    (68, [-0.25, -0.25, -0.2, -0.2, -0.15, -0.15, -0.1, -0.1, -0.05, -0.05, 0.0]),
    (90, [-0.55, -0.6, -0.55, -0.55, -0.5, -0.5, -0.5, -0.45, -0.45, -0.4, -0.4]),
    (92, [-0.25, -0.3, -0.25, -0.25, -0.2, -0.2, -0.15, -0.15, -0.1, -0.1, -0.05]),
    (97, [-0.75, -0.7, -0.7, -0.7, -0.65, -0.65, -0.6, -0.6, -0.6, -0.55, -0.55]),
    (12, [-0.95, -0.95, -0.9, -0.9, -0.9, -0.85, -0.85, -0.8, -0.8, -0.8, -0.75]),
]
S8_STEP = [
    (35, [(0, 0.55), (0.1, 0.55), (0.2, 0.55), (0.21, 0.6), (0.215, 2.1), (0.25, 2.12),
          (0.3, 2.2), (0.35, 2.25), (0.37, 2.3), (0.375, 2.45), (0.45, 2.45), (0.5, 2.5),
          (0.55, 2.55), (0.565, 2.6), (0.57, 2.95), (0.65, 3.05), (0.7, 3.08), (0.75, 3.12),
          (0.76, 3.15), (0.765, 1.2), (0.8, 1.25), (0.9, 1.3), (1, 1.35)]),
    (25, [(0, 0.5), (0.2, 0.45), (0.4, 0.5), (0.6, 0.55), (0.66, 0.55), (0.665, 2.6),
          (0.675, 2.65), (0.68, 2.85), (0.76, 2.9), (0.77, 2.92), (0.775, 3.15), (0.93, 3.15),
          (0.94, 3.3), (0.96, 3.45), (1, 3.45)]),
    (77, [(0, 1.02), (0.05, 1.05), (0.09, 1.0), (0.095, 0.92), (0.1, 1.0), (0.15, 1.05),
          (0.19, 1.1), (0.195, 1.5), (0.25, 1.5), (0.3, 1.55), (0.355, 1.6), (0.36, 2.05),
          (0.4, 2.1), (0.5, 2.15), (0.58, 2.2), (0.585, 2.3), (0.7, 2.35), (0.8, 2.35),
          (0.84, 2.4), (0.85, 2.6), (0.9, 2.62), (0.95, 2.6), (1, 2.5)]),
    (79, [(0, 0.6), (0.1, 0.65), (0.2, 0.75), (0.22, 0.75), (0.225, 1.25), (0.3, 1.3),
          (0.4, 1.35), (0.5, 1.4), (0.58, 1.45), (0.59, 1.55), (0.7, 1.55), (0.79, 1.55),
          (0.8, 2.2), (0.9, 2.18), (1, 2.18)]),
    (7, [(0, 0.45), (0.1, 0.45), (0.2, 0.5), (0.3, 0.5), (0.31, 0.85), (0.4, 0.9), (0.47, 0.95),
         (0.48, 1.0), (0.485, 1.75), (0.55, 1.8), (0.6, 1.85), (0.65, 1.9), (0.68, 1.9),
         (0.685, 0.55), (0.8, 0.55), (0.9, 0.6), (1, 0.6)]),
    (1, [(0, 0.3), (0.2, 0.35), (0.39, 0.45), (0.395, 1.4), (0.5, 1.38), (0.6, 1.35),
         (0.67, 1.4), (0.68, 1.6), (0.8, 1.62), (0.9, 1.62), (1, 1.62)]),
    (3, [(0, 0.2), (0.3, 0.25), (0.5, 0.4), (0.6, 0.5), (0.65, 0.9), (0.7, 1.15), (0.8, 1.2),
         (0.9, 1.3), (1, 1.4)]),
    (23, [(0, 0.1), (0.3, 0.2), (0.5, 0.35), (0.62, 0.5), (0.63, 0.95), (0.7, 1.0), (0.8, 1.05),
          (0.9, 1.1), (1, 1.15)]),
    (54, [(0, 0.5), (0.2, 0.5), (0.4, 0.55), (0.45, 0.6), (0.46, 0.85), (0.6, 0.85),
          (0.8, 0.88), (1, 0.9)]),
    (62, [(0, -1.75), (0.1, -1.78), (0.3, -1.72), (0.5, -1.72), (0.52, -1.7), (0.525, -1.35),
          (0.6, -1.32), (0.8, -1.3), (1, -1.25)]),
    (60, [(0, -1.8), (0.2, -1.75), (0.4, -1.75), (0.6, -1.72), (0.8, -1.65), (0.9, -1.65),
          (1, -1.7)]),
    (61, [(0, -1.85), (0.2, -1.8), (0.5, -1.78), (0.7, -1.75), (0.85, -1.7), (1, -1.65)]),
    (9, [(0, -2.05), (0.1, -2.05), (0.2, -2.1), (0.3, -2.05), (0.5, -2.05), (0.65, -2.05),
         (0.67, -1.95), (0.75, -2.0), (0.8, -1.95), (0.9, -2.0), (1, -1.95)]),
    (46, [(0, -3.3), (0.03, -3.35), (0.08, -3.25), (0.12, -3.1), (0.16, -3.0), (0.2, -2.85),
          (0.25, -2.6), (0.3, -2.4), (0.34, -2.25), (0.4, -2.25), (0.5, -2.2), (0.55, -2.15),
          (0.6, -2.2), (0.7, -2.2), (0.75, -2.15), (0.8, -2.15), (0.84, -2.2), (0.855, -2.35),
          (0.87, -2.25), (0.89, -2.15), (0.95, -2.1), (1, -2.1)]),
    (17, [(0, -0.9), (0.3, -0.9), (0.5, -0.85), (0.51, -0.7), (0.6, -0.7), (0.65, -0.75),
          (0.655, -1.0), (0.8, -1.05), (1, -1.05)]),
]

# ---------------- S13 ----------------
S13_ORANGE = [
    (6, [(0, 6.15), (0.03, 6.1), (0.05, 6.3), (0.07, 6.35), (0.09, 6.15), (0.12, 6.1),
         (0.15, 6.3), (0.18, 6.05), (0.2, 6.2), (0.23, 6.25), (0.25, 6.2), (0.3, 6.15),
         (0.35, 6.1), (0.4, 6.2), (0.45, 6.15), (0.5, 6.2), (0.55, 6.25), (0.6, 6.2),
         (0.65, 6.1), (0.7, 6.15), (0.72, 6.2), (0.8, 6.2), (0.85, 6.15), (0.9, 6.2),
         (0.95, 6.25), (1.0, 6.1)]),
    (6, [(0, 6.05), (0.02, 6.1), (0.04, 6.2), (0.05, 6.25), (0.06, 6.0), (0.07, 5.65),
         (0.08, 5.8), (0.09, 6.3), (0.095, 5.9), (0.1, 6.35), (0.11, 6.1), (0.13, 6.2),
         (0.15, 5.55), (0.16, 6.0), (0.18, 6.1), (0.2, 6.2), (0.22, 6.25), (0.235, 6.3),
         (0.245, 5.6), (0.255, 7.05), (0.27, 5.55), (0.28, 7.1), (0.29, 5.5), (0.3, 6.9),
         (0.31, 5.45), (0.32, 6.8), (0.335, 5.6), (0.345, 6.85), (0.355, 5.55), (0.37, 6.8),
         (0.38, 5.5), (0.39, 6.9), (0.4, 5.9), (0.41, 7.0), (0.43, 5.85), (0.44, 7.25),
         (0.45, 6.9), (0.46, 7.0), (0.47, 6.85), (0.48, 7.2), (0.49, 6.4), (0.5, 5.7),
         (0.51, 7.15), (0.52, 6.0), (0.53, 6.9), (0.54, 6.1), (0.56, 5.9), (0.58, 6.45),
         (0.6, 5.75), (0.62, 6.8), (0.63, 6.1), (0.65, 5.45), (0.66, 6.3), (0.68, 5.4),
         (0.69, 5.3), (0.7, 5.3), (0.71, 6.1), (0.72, 6.7), (0.74, 6.8), (0.76, 6.75),
         (0.77, 6.6), (0.78, 6.7), (0.79, 6.0), (0.8, 5.4), (0.81, 5.9), (0.82, 5.6),
         (0.84, 6.95), (0.85, 5.6), (0.86, 5.75), (0.88, 5.5), (0.89, 6.98), (0.91, 5.7),
         (0.93, 6.98), (0.95, 5.9), (0.97, 6.98), (0.98, 6.2), (0.99, 5.5), (1.0, 6.65)]),
]
S13_BAND = [
    (14, [0.3, 1.1, -0.5, 0.2, 1.2, -0.3, 0.6, -0.8, 1.1, 0.0, -0.6, 0.5, -0.2, 0.7, -0.9, 0.3,
          0.8, -0.4, 0.1, -0.7, 0.6, -0.3, 0.4, -0.9, 0.2, 0.7, -0.5, 0.3, -0.2, 0.6, -0.8, 0.1,
          0.5, -0.6, 0.4, -0.1, 0.7, -0.7, 0.2, 0.5, -0.4, 0.3, -0.9, 0.6, 0.1, -0.5, 0.4, 0.8,
          -0.3, 0.2, 0.6]),
    (20, [0.5, -0.4, 0.9, 0.1, -0.7, 1.0, 0.2, -0.3, 0.6, -0.9, 0.4, 1.1, -0.2, 0.3, -0.6, 0.8,
          0.0, -0.8, 0.5, 0.2, -0.5, 0.7, -0.1, 0.4, -0.7, 0.3, 0.6, -0.4, 0.1, -0.9, 0.5, 0.2,
          -0.3, 0.7, -0.6, 0.3, 0.0, -0.5, 0.6, -0.2, 0.4, -0.8, 0.7, 0.1, -0.4, 0.5, -0.1, 0.3,
          -0.7, 0.6, 0.7]),
    (32, [-0.3, -1.2, 0.4, -0.9, 0.2, -1.3, 0.5, -0.6, -1.5, 0.3, -0.4, 0.6, -1.1, -0.2, 0.4,
          -0.8, 0.1, -1.4, 0.3, -0.5, 0.5, -0.9, -0.1, 0.6, -1.2, 0.2, -0.6, 0.4, -1.0, 0.0, 0.5,
          -0.7, -1.3, 0.3, -0.4, 0.6, -0.9, 0.1, -1.1, 0.4, -0.5, 0.2, -1.2, 0.5, -0.3, -0.8,
          0.6, -1.0, 0.2, -1.3, 0.4]),
    (36, [-0.6, 0.4, -1.0, 0.2, -0.5, 0.7, -1.3, 0.0, -0.4, 0.6, -0.8, 0.3, -1.1, 0.5, -0.2,
          -1.4, 0.4, -0.6, 0.2, -0.9, 0.6, -0.3, 0.1, -1.2, 0.4, -0.5, 0.7, -0.8, -0.1, 0.3,
          -1.0, 0.5, -0.4, 0.2, -1.2, 0.6, -0.6, 0.1, -0.9, 0.4, -0.3, 0.7, -1.1, 0.2, -0.5, 0.5,
          -0.9, 0.3, -0.7, 0.6, -1.3]),
    (40, [0.2, -0.8, 0.6, -0.3, -1.1, 0.4, -0.6, 0.7, -0.2, -0.9, 0.5, 0.0, -1.2, 0.3, -0.5,
          0.8, -0.4, 0.1, -1.0, 0.6, -0.3, 0.2, -0.8, 0.5, -0.6, 1.1, -0.1, -0.9, 0.4, -0.4, 0.6,
          -1.0, 0.2, -0.5, 0.5, -0.8, 0.3, -0.2, 0.7, -1.1, 0.1, -0.4, 0.5, -0.7, 0.3, -0.9, 0.6,
          -0.2, 0.4, -0.6, 0.5]),
    (48, [-0.5, 0.3, -0.9, 0.5, -0.2, -1.0, 0.4, -0.4, 0.6, -0.8, 0.1, -1.2, 0.5, -0.3, 0.7,
          -0.6, 0.2, -0.9, 0.4, -0.1, 0.6, -0.5, 0.3, -0.7, 1.1, 0.5, -0.4, 0.2, -0.8, 0.6, -1.7,
          0.0, 1.0, -0.6, 0.3, -0.2, 0.6, -1.0, 0.2, 0.5, -0.5, 0.4, -0.8, 0.1, 0.5, -0.3, 0.6,
          -0.9, 0.3, 0.1, 0.5]),
    (52, [0.5, -0.7, 0.3, -1.1, 0.6, -0.4, 0.1, -0.9, 0.5, -0.5, 0.8, -0.2, -1.0, 0.4, -0.6,
          0.2, -0.3, 0.6, -1.2, 0.3, -0.1, 0.5, -0.8, 0.2, 0.6, -0.5, 1.1, 0.3, -0.9, 0.4, -0.3,
          1.0, -1.6, 0.2, -0.5, 0.6, -0.2, -0.9, 0.3, 0.5, -0.7, 0.1, 0.4, -1.0, 0.6, -0.3, 0.2,
          -0.8, 0.5, -0.4, 0.6]),
    (56, [-3.0, -0.5, 0.4, -0.8, 1.2, -0.3, 0.6, -1.0, 0.2, -0.5, 0.7, -0.9, 1.15, -0.2, 0.5,
          -0.7, 0.3, -1.1, 0.6, 0.0, -0.6, 0.4, -0.9, 0.5, -0.3, 0.2, -1.0, 0.6, -0.4, 0.1, 0.9,
          -0.8, 0.3, -0.5, 0.6, -0.2, -1.0, 0.4, 0.7, -0.6, 0.2, 1.25, -0.4, 0.3, -1.7, 0.5,
          -0.3, 0.6, -0.8, 0.2, 0.4]),
    (64, [0.1, 0.6, -0.7, 0.3, -0.4, 0.8, -1.0, 0.2, -0.3, 0.6, -0.8, 0.4, -0.1, 0.5, -0.9, 0.3,
          -0.5, 0.7, -0.2, 0.4, -1.1, 0.2, 0.5, -0.6, 0.3, -0.4, 0.6, -0.9, 0.1, 0.5, -0.3, 0.7,
          -0.7, 0.2, -0.5, 0.4, -0.2, 0.6, -1.0, 0.3, 0.1, -0.6, 0.5, 1.2, -0.4, 0.2, -0.8, 0.5,
          -0.3, 0.4, 0.5]),
    (74, [-0.9, -1.4, 0.2, -1.0, -0.3, -1.5, 0.1, -0.8, -1.3, 0.3, -0.6, -1.2, -0.1, -0.9, 0.2,
          -1.4, -0.5, 0.1, -1.1, -0.4, -1.6, 0.0, -0.7, -1.2, 0.2, -0.9, -0.3, -1.3, 0.1, -0.6,
          -1.1, -0.2, -1.4, 0.0, -0.8, -0.4, -1.2, 0.2, -0.9, -1.5, -0.3, 0.1, -1.0, -0.6, -1.3,
          0.0, -0.8, -0.4, -1.2, -0.2, -0.9]),
    (78, [-1.5, 0.3, -1.1, -0.2, -1.4, 0.4, -0.7, -1.2, 0.1, -0.5, -1.6, 0.2, -0.9, -0.3, -1.3,
          0.5, -0.6, -1.0, 0.0, -1.4, -0.4, 0.3, -1.1, -0.6, -1.5, 0.1, -0.8, -0.2, -1.2, 0.3,
          -0.7, -1.3, -0.1, -0.9, 0.2, -1.4, -0.5, -1.0, 0.1, -0.6, -1.2, -0.3, 0.2, -1.1, -0.7,
          -1.4, 0.0, -0.5, -1.0, 0.1, -0.8]),
    (82, [-2.5, 0.8, -0.6, 0.4, -1.0, 0.6, -0.3, -1.3, 0.5, -0.7, 0.2, -1.1, 0.7, -0.4, 0.1,
          -0.9, 0.6, -0.2, -1.2, 0.4, 2.3, -0.5, 0.3, -1.7, 0.6, -0.3, -1.0, 0.4, -0.6, 0.2,
          -1.1, 0.5, -0.4, 0.7, -0.8, 0.1, -1.2, 0.4, -0.2, 0.6, -0.9, 0.3, -0.5, 0.8, -1.0, 0.2,
          -0.4, 0.6, -1.1, 0.3, -0.6]),
    (84, [-1.2, 0.2, -0.9, 0.4, -0.5, -1.1, 0.3, -0.7, 0.1, -1.3, 0.0, -0.5, 0.5, -0.9, -0.2,
          0.3, -1.1, -0.4, 0.2, -0.8, 0.4, -1.2, -0.1, 0.3, -0.6, -1.0, 0.2, -0.4, 0.5, -1.2,
          -0.3, 0.1, -0.8, 0.3, -1.0, -0.2, 0.4, -0.7, -1.3, 0.1, -0.5, 0.3, -0.9, 0.0, -1.1, 0.4,
          -0.6, -0.2, -1.0, 0.2, -0.7]),
    (86, [0.4, -1.0, -0.2, 0.6, -0.6, 0.2, -1.2, 0.4, -0.4, 0.3, -0.9, 0.5, -0.6, 0.1, 0.6,
          -1.1, 0.2, -0.5, 0.4, -0.8, 0.0, 0.5, -1.0, 0.3, -0.4, 0.6, -0.7, -1.2, 0.2, 0.4, -0.6,
          0.1, -0.9, 0.5, -0.3, 0.3, -1.1, 0.4, -0.2, 0.6, -0.8, 0.0, 0.4, -1.0, 0.2, -0.5, 0.5,
          -0.7, 0.1, -0.4, 0.3]),
    (88, [-1.6, 0.5, -0.8, 0.3, -0.4, 0.7, -1.1, 0.1, -0.6, 0.5, -1.7, 0.2, -0.3, 0.6, -0.9,
          0.4, -0.5, 0.3, -1.2, 0.1, -0.6, 0.5, -0.2, -1.0, 0.4, 0.9, 0.6, -0.5, 0.2, -0.8, 0.3,
          0.8, -0.4, 0.5, -1.0, 0.2, -0.3, 0.6, -0.7, 0.1, 0.4, 0.9, 0.7, -0.6, 0.3, -0.9, 0.5,
          -0.2, 0.4, -1.3, -0.5]),
    (89, [0.3, -0.6, 0.1, -0.4, 0.5, -0.8, 0.2, -0.2, 0.4, -0.7, 0.3, -0.1, -0.6, 0.5, -0.3,
          0.2, -0.8, 0.4, -0.1, 0.3, -0.6, 0.6, -0.4, 0.0, -0.7, 0.4, 0.2, -0.5, 0.5, -0.8, 0.1,
          0.3, -0.4, -0.9, 0.4, 0.0, -0.5, 0.3, -0.7, 0.5, -0.1, -0.6, 0.3, 0.5, -0.8, 0.0, -0.4,
          0.4, -0.6, 0.3, 0.0]),
    (91, [0.6, -0.9, 0.2, -0.5, 0.8, -0.7, 0.3, -1.0, 0.5, -0.2, -0.8, 0.6, -0.4, 0.2, -1.2,
          0.5, -0.1, -0.7, 0.4, -0.3, 0.6, -1.0, 0.1, -0.5, 0.7, -0.6, 0.3, -0.9, 0.2, 0.5, -0.8,
          0.4, -0.3, 0.6, -1.1, 0.1, -0.4, 0.5, -0.7, 0.3, -0.2, 0.6, -0.9, 0.4, -0.5, 0.2, -1.0,
          0.5, -0.3, 0.6, -0.4]),
    (93, [-0.8, 0.4, -0.3, -1.2, 0.5, -0.6, 0.2, -0.9, 0.6, -0.4, 0.1, -1.1, 0.4, -0.7, 0.5,
          -0.2, -1.0, 0.3, -0.5, 0.6, -0.8, 0.2, -0.3, 0.5, -1.1, 0.1, -0.6, 0.4, -0.2, -0.9,
          0.5, -0.5, 0.3, -1.0, 0.2, -0.4, 0.6, -0.7, 0.1, -0.3, 0.5, -1.0, 0.2, -0.6, 0.4, -0.2,
          -0.8, 0.5, -0.4, 0.3, -0.7]),
    (95, [0.2, -0.6, 0.5, -0.3, -0.9, 0.4, -0.1, 0.6, -0.7, 0.2, -0.4, 0.5, -0.8, 0.3, -0.2,
          0.6, -1.0, 0.1, 0.4, -0.5, 0.2, -0.7, 0.5, -0.1, -0.9, 0.3, -0.4, 0.6, -0.6, 0.1, 0.4,
          -0.8, 0.2, -0.3, 0.5, -0.9, 0.3, 0.0, -0.6, 0.4, -0.2, 0.5, -0.8, 0.1, 0.3, -0.5, 0.6,
          -0.7, 0.2, -0.3, 0.1]),
    (96, [-0.6, 0.2, -0.3, 0.5, -0.5, 0.1, -0.8, 0.3, -0.2, 0.4, -0.6, 0.2, 0.5, -0.4, 0.0,
          -0.7, 0.3, -0.3, 0.5, -0.5, 0.1, -0.2, 0.4, -0.8, 0.2, -0.4, 0.4, 0.0, -0.6, 0.3, -0.2,
          0.5, -0.7, 0.2, -0.3, 0.4, -0.5, 0.1, -0.8, 0.3, -0.3, 0.5, -0.2, -0.6, 0.2, 0.4, -0.5,
          0.1, -0.3, 0.4, -0.4]),
    (97, [-0.4, 0.3, -0.7, 0.1, -0.2, 0.5, -0.8, 0.0, 0.4, -0.5, 0.2, -0.9, 0.3, -0.3, 0.5,
          -0.6, 0.1, -0.2, 0.4, -0.8, 0.3, -0.4, 0.1, 0.5, -0.7, 0.2, -0.1, 0.4, -0.9, 0.3, -0.5,
          0.2, 0.5, -0.6, 0.0, -0.3, 0.4, -0.8, 0.2, -0.4, 0.5, -0.2, -0.7, 0.3, 0.1, -0.5, 0.4,
          -0.8, 0.2, -0.2, 0.3]),
    (98, [0.1, -0.3, 0.3, -0.6, 0.0, 0.4, -0.4, 0.2, -0.5, 0.3, -0.2, 0.0, -0.7, 0.2, 0.4, -0.3,
          0.0, -0.6, 0.3, 0.1, -0.4, 0.2, -0.5, 0.4, -0.1, -0.3, 0.3, -0.6, 0.1, 0.2, -0.4, 0.4,
          -0.2, -0.5, 0.3, 0.0, -0.6, 0.2, 0.1, -0.4, 0.3, -0.5, 0.0, 0.2, -0.3, 0.4, -0.6, 0.1,
          0.3, -0.4, 0.2]),
    (99, [0.0, -0.5, 0.4, -0.2, 0.3, -0.7, 0.2, -0.4, 0.5, -0.1, -0.6, 0.3, -0.3, 0.4, -0.8,
          0.1, 0.3, -0.5, 0.2, -0.2, 0.5, -0.6, 0.0, 0.3, -0.4, 0.4, -0.7, 0.1, 0.3, -0.3, 0.2,
          -0.6, 0.4, -0.1, -0.5, 0.3, -0.2, 0.5, -0.7, 0.1, 0.2, -0.4, 0.4, -0.6, 0.0, 0.3, -0.3,
          0.5, -0.5, 0.1, -0.2]),
    (0, [-0.2, 0.5, -0.6, 0.2, -0.9, 0.4, 0.0, -0.7, 0.6, -0.3, 0.2, -1.0, 0.4, -0.5, 0.3, -0.2,
         0.7, -0.8, 0.1, -0.4, 0.5, -0.6, 0.3, -0.9, 0.2, 0.6, -0.3, 0.1, -0.7, 0.5, -0.4, 0.2,
         -0.8, 0.4, 0.1, -0.6, 0.3, -0.3, 0.6, -1.0, 0.2, -0.2, 0.5, -0.7, 0.3, -0.4, 0.1, 0.6,
         -0.6, 0.2, -0.1]),
]

X_TICKS = [0.0, 0.25, 0.5, 0.75, 1.0]
X_TICK_LABELS = ["0.00", "0.25", "0.50", "0.75", "1.00"]


def hue_color(i, n=N_GROUPS):
    h = np.deg2rad(15 + 360.0 * i / n)
    L, C = 65.0, 100.0
    u, v = C * np.cos(h), C * np.sin(h)
    Y = ((L + 16) / 116) ** 3
    un, vn = 0.19784, 0.46834
    up = u / (13 * L) + un
    vp = v / (13 * L) + vn
    X = Y * 9 * up / (4 * vp)
    Z = Y * (12 - 3 * up - 20 * vp) / (4 * vp)
    rgb = np.array([3.2406 * X - 1.5372 * Y - 0.4986 * Z,
                    -0.9689 * X + 1.8758 * Y + 0.0415 * Z,
                    0.0557 * X - 0.2040 * Y + 1.0570 * Z])
    rgb = np.where(rgb > 0.0031308, 1.055 * np.clip(rgb, 0, None) ** (1 / 2.4) - 0.055, 12.92 * rgb)
    return tuple(np.clip(rgb, 0, 1))


W, H = 964, 588
fig = plt.figure(figsize=(W / 100, H / 100), dpi=100)
fig.patch.set_facecolor('white')


def make_ax(left, right, top, bottom):
    return fig.add_axes([left / W, 1 - bottom / H, (right - left) / W, (bottom - top) / H])


def style(ax, ylim, yticks, ylabels, yminor, name, ylab_px, left_px, width_px, xlab_off):
    ax.set_facecolor('#EBEBEB')
    for s in ax.spines.values():
        s.set_visible(False)
    ax.set_xlim(-0.05, 1.05)
    ax.set_ylim(*ylim)
    ax.set_xticks(X_TICKS)
    ax.set_xticklabels(X_TICK_LABELS)
    ax.set_yticks(yticks)
    ax.set_yticklabels(ylabels)
    ax.set_xticks([0.125, 0.375, 0.625, 0.875], minor=True)
    ax.set_yticks(yminor, minor=True)
    ax.grid(True, which='major', color='white', linewidth=1.25)
    ax.grid(True, which='minor', color='white', linewidth=0.6)
    ax.set_axisbelow(True)
    ax.tick_params(which='major', length=3.3, width=0.9, color='#333333',
                   labelsize=11.5, labelcolor='#4D4D4D', pad=2.5)
    ax.tick_params(which='minor', length=0)
    ax.set_xlabel('Time', fontsize=14, color='black')
    ax.set_ylabel(name, fontsize=14, color='black')
    ax.yaxis.set_label_coords((ylab_px - left_px) / width_px, 0.5)
    ax.yaxis.label.set_verticalalignment('center')
    ax.xaxis.set_label_coords(0.5, xlab_off)
    ax.xaxis.label.set_verticalalignment('center')


def draw(ax, steady, grid, steps, band=None, lw=1.4):
    items = []
    for g, vals in steady:
        items.append((g, list(grid), list(vals)))
    for g, pts in steps:
        items.append((g, [p[0] for p in pts], [p[1] for p in pts]))
    if band:
        for g, vals in band:
            items.append((g, list(np.linspace(0, 1, len(vals))), list(vals)))
    items.sort(key=lambda it: it[0])
    for g, ts, ys in items:
        ax.plot(ts, ys, color=hue_color(g), linewidth=lw, solid_joinstyle='round')


ax1 = make_ax(57.3, 476.4, 4, 234)
draw(ax1, S3_STEADY, S3_GRID, S3_STEP)
style(ax1, (-5.40, 2.62), [-4, -2, 0, 2], ['-4', '-2', '0', '2'], [-5, -3, -1, 1],
      'S3', 16, 57.3, 419.1, -(272 - 234) / 230)

ax2 = make_ax(545.2, 964.8, 4, 234)
draw(ax2, S4_STEADY, S4_GRID, S4_STEP)
style(ax2, (-2.38, 2.64), [-2, -1, 0, 1, 2], ['-2', '-1', '0', '1', '2'],
      [-1.5, -0.5, 0.5, 1.5], 'S4', 507, 545.2, 419.6, -(272 - 234) / 230)

ax3 = make_ax(57.3, 476.4, 304, 536)
draw(ax3, S8_STEADY, S8_GRID, S8_STEP)
style(ax3, (-3.69, 3.84), [-2, 0, 2], ['-2', '0', '2'], [-3, -1, 1, 3],
      'S8', 16, 57.3, 419.1, -(575 - 536) / 232)

ax4 = make_ax(559.5, 965.5, 304, 536)
draw(ax4, [], [], S13_ORANGE, S13_BAND, lw=1.5)
style(ax4, (-3.54, 7.78), [-2.5, 0, 2.5, 5, 7.5], ['-2.5', '0.0', '2.5', '5.0', '7.5'],
      [-1.25, 1.25, 3.75, 6.25], 'S13', 505, 559.5, 406, -(575 - 536) / 232)

fig.savefig('out.png', dpi=100, facecolor='white')
